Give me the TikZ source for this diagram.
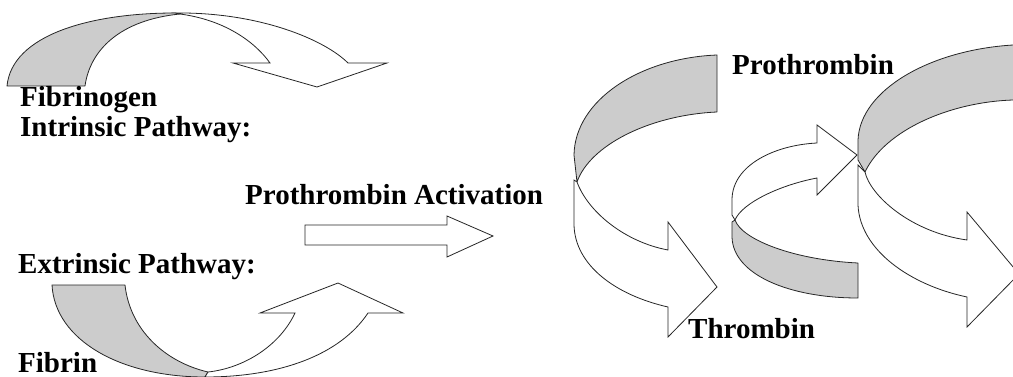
\documentclass[tikz,border=0pt]{standalone}
\usepackage{fontspec}
\setmainfont{Liberation Serif}
\tikzset{
  bandback/.style={draw=black!85, fill=black!20, line width=0.8pt, line join=round},
  bandfront/.style={draw=black!85, fill=white, line width=0.8pt},
  lab/.style={font=\fontsize{29}{35}\selectfont\bfseries, anchor=base west, inner sep=0pt}
}
\begin{document}
\begin{tikzpicture}[x=1pt, y=-1pt]
\useasboundingbox (0,0) rectangle (1013,377);
\clip (0,0) rectangle (1013,377);

% top left: curved arrow over Fibrinogen
\draw[bandfront] (175,13) .. controls (260,12) and (325,40) .. (348,63)
  -- (387,63) -- (317,87) -- (233,63) -- (270,63)
  .. controls (255,42) and (225,20) .. (180,14) -- cycle;
\draw[bandback] (7,86) .. controls (12,35) and (90,13) .. (175,13)
  -- (180,14) .. controls (120,20) and (90,50) .. (85,86) -- cycle;

% bottom left: curved arrow from Fibrin
\draw[bandback] (52,285) -- (125,285) .. controls (130,330) and (165,362) .. (208,372)
  -- (205,377) .. controls (120,377) and (55,340) .. (52,285) -- cycle;
\draw[bandfront] (208,372) .. controls (245,368) and (280,345) .. (295,313)
  -- (260,313) -- (338,283) -- (403,313) -- (368,313)
  .. controls (340,355) and (280,377) .. (205,377) -- cycle;

% straight arrow
\draw[bandfront] (305,225) -- (447,225) -- (447,216) -- (493,236)
  -- (447,257) -- (447,245) -- (305,245) -- cycle;

% left big ribbon
\draw[bandback] (717,55) .. controls (640,58) and (575,100) .. (574,155)
  -- (577,182) .. controls (590,145) and (650,115) .. (717,112) -- cycle;
\draw[bandfront] (577,182) .. controls (588,212) and (625,242) .. (668,250)
  -- (668,222) -- (717,287) -- (668,337) -- (668,307)
  .. controls (615,295) and (575,265) .. (574,225) -- (574,180) -- cycle;

% middle small ribbon
\draw[bandfront] (735,220) -- (732,215) -- (732,200)
  .. controls (732,165) and (775,145) .. (817,143)
  -- (817,125) -- (857,155) -- (817,195) -- (817,178)
  .. controls (780,185) and (742,203) .. (735,220);
\draw[bandback] (735,220) .. controls (742,240) and (795,260) .. (858,263)
  -- (858,298) .. controls (790,298) and (733,275) .. (732,237) -- (732,222) -- cycle;

% right big ribbon
\draw[bandback] (1060,44) -- (1013,45) .. controls (930,50) and (860,90) .. (858,140)
  -- (858,160) -- (865,172) .. controls (885,130) and (950,102) .. (1013,100)
  -- (1060,100) -- cycle;
\draw[bandfront] (865,172) .. controls (870,195) and (910,232) .. (967,240)
  -- (967,212) -- (1019,274) -- (967,327) -- (967,297)
  .. controls (910,285) and (860,250) .. (858,205) -- (858,165) -- cycle;

% labels
\node[lab] (fibrinogen) at (20,107) {Fibrinogen};
\node[lab] (intrinsic) at (20,137) {Intrinsic Pathway:};
\node[lab] (activation) at (245,205) {Prothrombin Activation};
\node[lab] (extrinsic) at (18,273) {Extrinsic Pathway:};
\node[lab] (fibrin) at (18,372) {Fibrin};
\node[lab] (prothrombin) at (732,75) {Prothrombin};
\node[lab] (thrombin) at (688,338) {Thrombin};
\end{tikzpicture}
\end{document}
